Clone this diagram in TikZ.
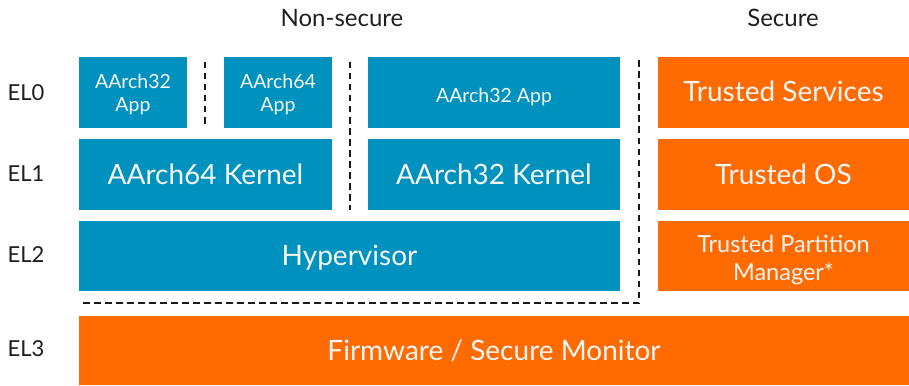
\documentclass[tikz,border=0pt]{standalone}
\usepackage{fontspec}
\setmainfont{Lato}
\definecolor{armblue}{RGB}{0,146,190}
\definecolor{armorange}{RGB}{255,107,0}
\definecolor{labelgray}{RGB}{30,30,30}
\definecolor{boxtext}{RGB}{246,246,246}
\newcommand{\topstrut}[1]{\rule{0pt}{#1}}
\tikzset{
  box/.style={rectangle, inner sep=0pt, text=boxtext, align=center},
  bluebox/.style={box, fill=armblue},
  orangebox/.style={box, fill=armorange},
  oneline/.style={text height=19pt, text depth=0pt},
  big/.style={font=\fontsize{28}{32}\selectfont},
  small/.style={font=\fontsize{19.5}{23}\selectfont},
  lbl/.style={text=labelgray, inner sep=0pt, text depth=0pt},
  sep/.style={draw=black!90, line width=2.6pt, dash pattern=on 6.5pt off 4.5pt},
}
\begin{document}
\begin{tikzpicture}[x=1pt,y=-1pt]
\useasboundingbox (0,0) rectangle (909,385);
% headers
\node[lbl, text height=17.2pt, font=\fontsize{24}{28}\selectfont] (ns) at (342,17.5) {Non-secure};
\node[lbl, text height=17.2pt, font=\fontsize{24}{28}\selectfont] (sec) at (783,17.5) {Secure};
% EL labels
\node[lbl, text height=15.8pt, anchor=west, font=\fontsize{22}{26}\selectfont] (el0) at (7.5,93) {EL0};
\node[lbl, text height=15.8pt, anchor=west, font=\fontsize{22}{26}\selectfont] (el1) at (7.5,174) {EL1};
\node[lbl, text height=15.8pt, anchor=west, font=\fontsize{22}{26}\selectfont] (el2) at (7.5,254.5) {EL2};
\node[lbl, text height=15.8pt, anchor=west, font=\fontsize{22}{26}\selectfont] (el3) at (7.5,348.5) {EL3};
% non-secure boxes
\node[bluebox, small, minimum width=108pt, minimum height=71pt] (a32app) at (133,92.5) {\topstrut{18.6pt}AArch32\\App};
\node[bluebox, small, minimum width=108pt, minimum height=71pt] (a64app) at (278,92.5) {\topstrut{18.6pt}AArch64\\App};
\node[bluebox, small, text height=19.6pt, text depth=0pt, minimum width=252pt, minimum height=71pt] (a32app2) at (494,92.5) {AArch32 App};
\node[bluebox, big, oneline, minimum width=253pt, minimum height=71pt] (a64k) at (205.5,174.5) {AArch64 Kernel};
\node[bluebox, big, oneline, minimum width=252pt, minimum height=71pt] (a32k) at (494,174.5) {AArch32 Kernel};
\node[bluebox, big, oneline, minimum width=541pt, minimum height=70pt] (hyp) at (349.5,256) {Hypervisor};
% secure boxes
\node[orangebox, big, oneline, minimum width=251pt, minimum height=71pt] (ts) at (783.5,92.5) {Trusted Services};
\node[orangebox, big, oneline, minimum width=251pt, minimum height=71pt] (tos) at (783.5,174.5) {Trusted OS};
\node[orangebox, minimum width=251pt, minimum height=70pt, font=\fontsize{23.5}{28}\selectfont] (tpm) at (783.5,256) {\topstrut{24.4pt}Trusted Partition\\Manager*};
\node[orangebox, big, oneline, minimum width=830pt, minimum height=69pt] (fw) at (494,350.5) {Firmware / Secure Monitor};
% separators
\coordinate (d1a) at (205,62);
\coordinate (d1b) at (205,128);
\coordinate (d2a) at (350,62);
\coordinate (d2b) at (350,210);
\coordinate (d3a) at (83,303);
\coordinate (d3c) at (639,303);
\coordinate (d3b) at (639,60);
\draw[sep] (d1a) -- (d1b);
\draw[sep] (d2a) -- (d2b);
\draw[sep] (d3a) -- (d3c) -- (d3b);
\end{tikzpicture}
\end{document}
